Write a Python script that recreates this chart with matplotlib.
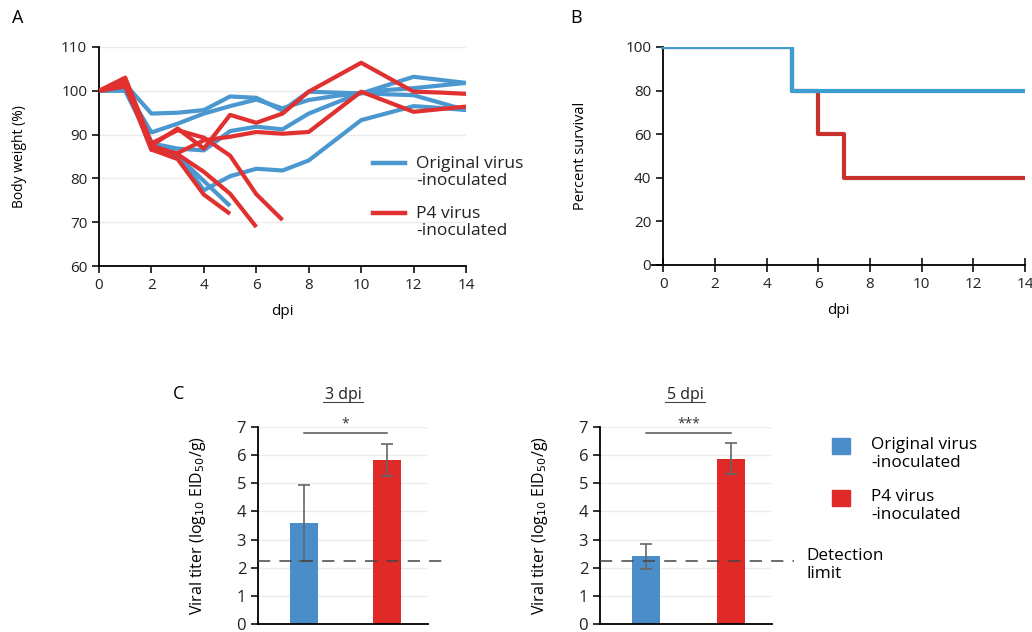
import numpy as np
import matplotlib
matplotlib.use('Agg')
import matplotlib.pyplot as plt

plt.rcParams['font.family'] = ['Open Sans', 'DejaVu Sans']

nan = np.nan
dpi_days = np.arange(0, 15)

# body weight (%) per mouse, NaN after death
orig_weights = [
    [100, 101.5, 94.8, 95.0, 95.6, 98.7, 98.4, 95.5, 99.8, 99.6, 99.4, 101.3, 103.2, 102.5, 101.8],
    [100, 100.5, 90.5, 92.5, 94.8, 96.5, 98.0, 96.0, 97.9, 98.8, 99.5, 99.2, 99.0, 97.3, 95.6],
    [100, 100.0, 88.0, 86.8, 86.4, 90.8, 91.8, 91.2, 94.8, 97.2, 99.5, 100.2, 100.6, 101.2, 101.8],
    [100, 100.5, 88.3, 85.6, 77.3, 80.5, 82.2, 81.8, 84.1, 88.7, 93.3, 94.9, 96.5, 96.1, 95.6],
    [100, 101.0, 88.2, 85.1, 79.4, 73.7, nan, nan, nan, nan, nan, nan, nan, nan, nan],
]
p4_weights = [
    [100, 102.0, 87.5, 91.4, 86.8, 94.5, 92.7, 94.8, 99.8, 103.1, 106.4, 103.1, 99.8, 99.6, 99.3],
    [100, 101.5, 86.5, 85.8, 88.7, 89.5, 90.6, 90.2, 90.6, 95.2, 99.8, 97.5, 95.2, 95.8, 96.4],
    [100, 102.5, 86.6, 84.4, 76.3, 71.9, nan, nan, nan, nan, nan, nan, nan, nan, nan],
    [100, 101.0, 87.5, 85.5, 81.5, 76.5, 68.9, nan, nan, nan, nan, nan, nan, nan, nan],
    [100, 103.0, 88.0, 91.0, 89.3, 85.2, 76.4, 70.5, nan, nan, nan, nan, nan, nan, nan],
]

# survival curves (step points)
orig_surv_t = [0, 5, 14]
orig_surv = [100, 80, 80]
p4_surv_t = [0, 5, 6, 7, 14]
p4_surv = [100, 80, 60, 40, 40]

# viral titers
groups = ['Original virus\n-inoculated', 'P4 virus\n-inoculated']
titer_3dpi = [3.6, 5.82]
err_3dpi = [1.35, 0.57]
titer_5dpi = [2.4, 5.87]
err_5dpi = [0.45, 0.55]
detection_limit = 2.25

blue = '#4b97cf'
red = '#e0302f'
surv_blue = '#3b9fd1'
surv_red = '#c8322c'
bar_blue = '#4a8dc8'
bar_red = '#e02a28'
grid_c = '#ebebeb'

fig = plt.figure(figsize=(10.32, 6.32), dpi=100)
fig.patch.set_facecolor('white')

W, H = 1032.0, 632.0
def box(x0, y0, x1, y1):
    return [x0 / W, 1 - y1 / H, (x1 - x0) / W, (y1 - y0) / H]

def fx(x):
    return x / W

def fy(y):
    return 1 - y / H

def style(ax, fs):
    for s in ['top', 'right']:
        ax.spines[s].set_visible(False)
    ax.spines['left'].set_linewidth(1.3)
    ax.spines['bottom'].set_linewidth(1.3)
    ax.tick_params(direction='out', length=5, width=1.3, labelsize=fs, colors='#222222')

# ---- A: body weight
axA = fig.add_axes(box(99, 47, 466, 266))
for w in orig_weights:
    axA.plot(dpi_days, w, color=blue, lw=3, solid_capstyle='butt', zorder=3)
for w in p4_weights:
    axA.plot(dpi_days, w, color=red, lw=3, solid_capstyle='butt', zorder=3)
axA.set_xlim(0, 14)
axA.set_ylim(60, 110)
axA.set_xticks(range(0, 15, 2))
axA.set_yticks(range(60, 111, 10))
axA.yaxis.grid(True, color=grid_c, lw=1)
axA.set_axisbelow(True)
style(axA, 11)
axA.set_xlabel('dpi', fontsize=11, labelpad=8)
axA.set_ylabel('Body weight (%)', fontsize=10)
axA.yaxis.set_label_coords((27 - 99) / 367, 0.5)
fig.text(12 / W, 1 - 18 / H, 'A', fontsize=13, va='center')

# legend for A (handle level with the first text line)
for yc, col, lab in [(163, blue, groups[0]), (213, red, groups[1])]:
    fig.add_artist(plt.Line2D([fx(373), fx(405)], [fy(yc)] * 2, color=col, lw=3.2))
    fig.text(fx(416), fy(yc - 7), lab, fontsize=12.5, va='top', linespacing=1.05,
             color='#222222')

# ---- B: survival
axB = fig.add_axes(box(652, 47, 1025, 265))
axB.step(p4_surv_t, p4_surv, where='post', color=surv_red, lw=3, zorder=3)
axB.step(orig_surv_t, orig_surv, where='post', color=surv_blue, lw=3, zorder=4)
axB.set_xlim(-0.43, 14)
axB.set_ylim(0, 100)
axB.spines['left'].set_position(('data', 0))
axB.set_xticks(range(0, 15, 2))
axB.set_yticks(range(0, 101, 20))
style(axB, 11)
axB.tick_params(axis='x', direction='inout', length=10)
axB.set_xlabel('dpi', fontsize=11, labelpad=8)
axB.set_ylabel('Percent survival', fontsize=10.5)
axB.yaxis.set_label_coords((588 - 652) / 373, 0.5)
fig.text(570 / W, 1 - 18 / H, 'B', fontsize=13, va='center')

# ---- C: viral titers
def bar_panel(ax, vals, errs, stars, dl_right, ylab_x):
    ax.bar([0, 1], vals, width=0.33, color=[bar_blue, bar_red], zorder=2)
    ax.errorbar([0, 1], vals, yerr=errs, fmt='none', ecolor='#666666',
                elinewidth=1.2, capsize=4, capthick=1.2, zorder=3)
    ax.set_xlim(-0.55, 1.49)
    ax.set_ylim(0, 7)
    ax.set_yticks(range(0, 8))
    ax.set_xticks([])
    ax.yaxis.grid(True, color=grid_c, lw=1)
    ax.set_axisbelow(True)
    style(ax, 12)
    ax.plot([-0.55, dl_right], [detection_limit] * 2, ls=(0, (8, 6)),
            color='#444444', lw=1.1, clip_on=False, zorder=4)
    ax.plot([0, 1], [6.8, 6.8], color='#555555', lw=1.1, clip_on=False)
    ax.text(0.5, 6.85, stars, ha='center', va='bottom', fontsize=10, color='#333333')
    ax.set_ylabel(r'Viral titer (log$_{10}$ EID$_{50}$/g)', fontsize=11.5)
    ax.yaxis.set_label_coords(ylab_x, 0.5)

axC1 = fig.add_axes(box(258, 427, 428, 624))
bar_panel(axC1, titer_3dpi, err_3dpi, '*', 1.75, (208 - 258) / 170)
axC2 = fig.add_axes(box(600, 427, 772, 624))
bar_panel(axC2, titer_5dpi, err_5dpi, '***', 1.75, (550 - 600) / 172)
fig.text(179 / W, 1 - 394 / H, 'C', fontsize=13, ha='center', va='center')

# underlined titles
for xc, title in [(343, '3 dpi'), (685, '5 dpi')]:
    fig.text(xc / W, 1 - 395 / H, title, fontsize=11.5, ha='center', va='center',
             color='#222222')
    fig.add_artist(plt.Line2D([(xc - 20) / W, (xc + 20) / W], [1 - 402 / H] * 2,
                              color='#444444', lw=0.8))

fig.text(806 / W, 1 - 565 / H, 'Detection\nlimit', fontsize=12.3, va='center',
         linespacing=1.1)

# C legend
for (yc, col, lab) in [(446, bar_blue, groups[0]), (498, bar_red, groups[1])]:
    fig.patches.append(plt.Rectangle((832 / W, 1 - (yc + 8) / H), 18 / W, 16 / H,
                                     color=col, transform=fig.transFigure, figure=fig))
    fig.text(871 / W, 1 - (yc + 8) / H, lab, fontsize=12.3, va='center', linespacing=1.1)

fig.savefig('out.png', dpi=100)
